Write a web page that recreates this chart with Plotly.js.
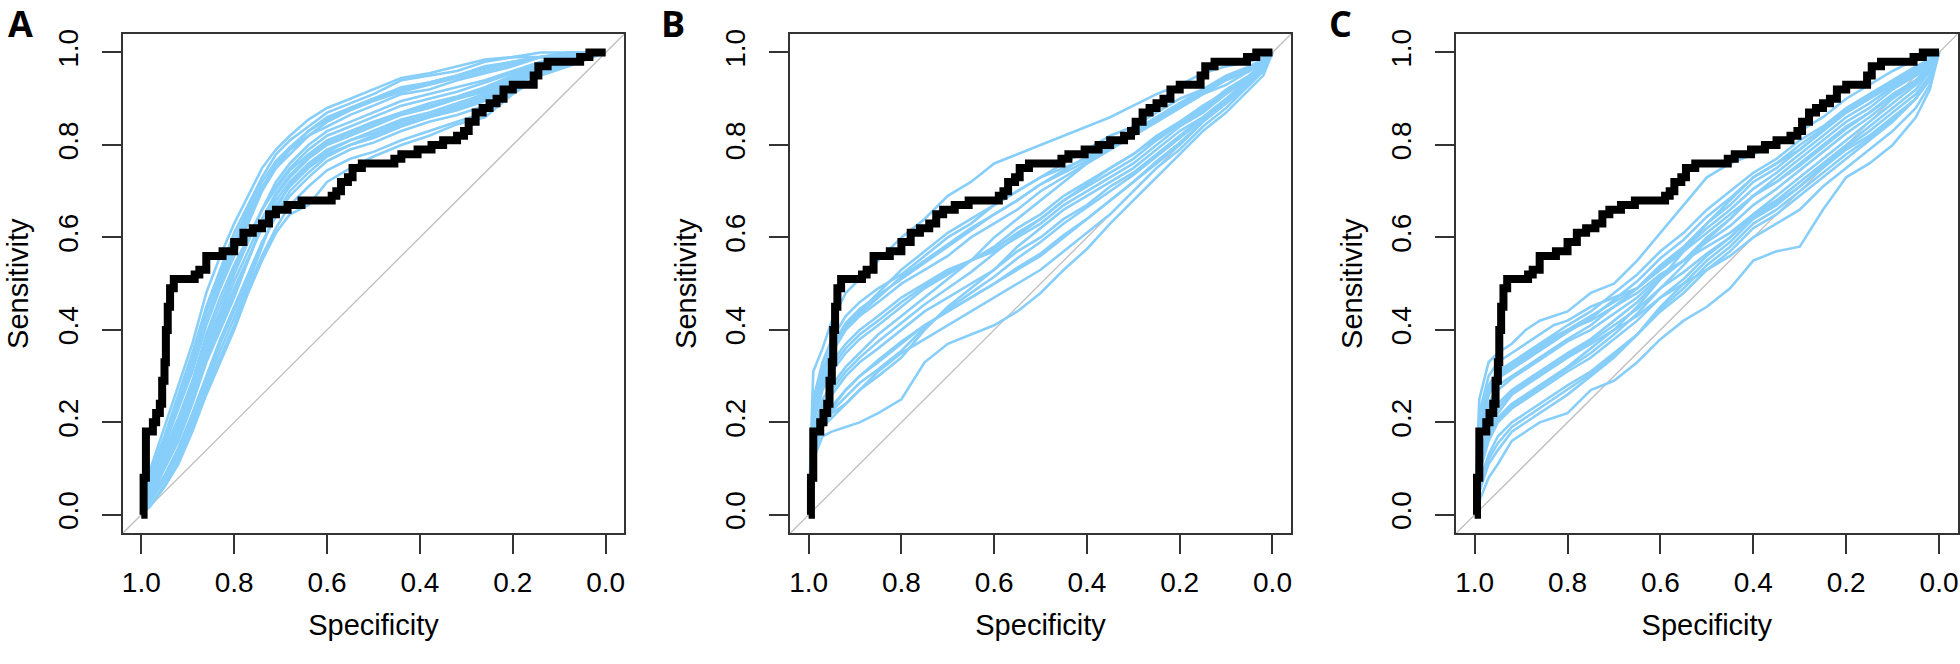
<!DOCTYPE html>
<html>
<head>
<meta charset="utf-8">
<script src="https://cdn.plot.ly/plotly-3.0.1.min.js"></script>
<style>html,body{margin:0;padding:0;background:#fff;}#chart{width:1960px;height:664px;}</style>
</head>
<body>
<div id="chart"></div>
<script>
// ---------- axis ticks ----------
const tickVals = [1.0, 0.8, 0.6, 0.4, 0.2, 0.0];
const tickText = ["1.0", "0.8", "0.6", "0.4", "0.2", "0.0"];
const panelLabels = ["A", "B", "C"];

// ---------- reference (black) ROC curve, same in all panels ----------
const blackSpec = [1.00, 0.995, 0.99, 0.975, 0.968, 0.96, 0.955, 0.95, 0.947, 0.943, 0.938, 0.93, 0.885, 0.875, 0.86, 0.825, 0.80, 0.78, 0.76, 0.74, 0.725, 0.71, 0.685, 0.655, 0.59, 0.58, 0.57, 0.555, 0.545, 0.525, 0.455, 0.44, 0.405, 0.375, 0.35, 0.32, 0.305, 0.295, 0.28, 0.265, 0.25, 0.235, 0.22, 0.20, 0.155, 0.145, 0.125, 0.055, 0.035, 0.0];
const blackSens = [0.00, 0.08, 0.18, 0.20, 0.22, 0.24, 0.29, 0.33, 0.40, 0.45, 0.49, 0.51, 0.52, 0.53, 0.56, 0.57, 0.59, 0.61, 0.62, 0.63, 0.65, 0.66, 0.67, 0.68, 0.69, 0.70, 0.72, 0.73, 0.75, 0.76, 0.77, 0.78, 0.79, 0.80, 0.81, 0.82, 0.83, 0.85, 0.87, 0.88, 0.89, 0.90, 0.92, 0.93, 0.95, 0.97, 0.98, 0.99, 1.00, 1.00];

// ---------- panel A blue curves ----------
const specA = [1.00, 0.98, 0.95, 0.92, 0.89, 0.86, 0.83, 0.80, 0.77, 0.74, 0.71, 0.68, 0.64, 0.60, 0.55, 0.50, 0.44, 0.38, 0.32, 0.26, 0.20, 0.14, 0.08, 0.00];
const blueA = [
  [0,0.10,0.19,0.28,0.37,0.48,0.56,0.63,0.69,0.75,0.79,0.82,0.855,0.88,0.90,0.92,0.945,0.955,0.97,0.985,0.99,1,1,1],
  [0,0.09,0.17,0.26,0.35,0.45,0.53,0.61,0.67,0.73,0.78,0.81,0.84,0.87,0.89,0.91,0.94,0.95,0.96,0.98,0.99,0.99,1,1],
  [0,0.08,0.16,0.25,0.33,0.44,0.51,0.58,0.65,0.71,0.75,0.78,0.82,0.84,0.865,0.885,0.91,0.92,0.94,0.955,0.97,0.99,0.99,1],
  [0,0.07,0.15,0.23,0.31,0.41,0.49,0.56,0.63,0.70,0.75,0.79,0.83,0.86,0.88,0.90,0.92,0.935,0.95,0.965,0.98,0.99,1,1],
  [0,0.06,0.14,0.21,0.29,0.39,0.47,0.54,0.60,0.66,0.705,0.745,0.78,0.81,0.83,0.85,0.87,0.89,0.905,0.925,0.95,0.975,0.985,1],
  [0,0.06,0.12,0.20,0.27,0.37,0.44,0.52,0.59,0.66,0.72,0.76,0.80,0.83,0.85,0.87,0.895,0.91,0.925,0.94,0.96,0.98,0.99,1],
  [0,0.05,0.11,0.18,0.26,0.35,0.42,0.49,0.555,0.62,0.67,0.71,0.75,0.78,0.80,0.82,0.845,0.86,0.88,0.90,0.935,0.965,0.98,1],
  [0,0.04,0.10,0.16,0.24,0.33,0.40,0.47,0.55,0.63,0.69,0.73,0.77,0.80,0.82,0.84,0.865,0.88,0.90,0.915,0.945,0.97,0.985,1],
  [0,0.04,0.085,0.145,0.22,0.30,0.38,0.45,0.52,0.59,0.645,0.69,0.73,0.765,0.79,0.805,0.83,0.85,0.865,0.885,0.925,0.96,0.975,1],
  [0,0.03,0.075,0.13,0.20,0.28,0.355,0.425,0.50,0.58,0.66,0.715,0.755,0.785,0.81,0.825,0.85,0.865,0.885,0.905,0.94,0.965,0.98,1],
  [0,0.02,0.065,0.12,0.19,0.27,0.34,0.41,0.49,0.56,0.62,0.67,0.71,0.745,0.77,0.785,0.81,0.83,0.85,0.87,0.915,0.955,0.975,1],
  [0,0.02,0.06,0.11,0.18,0.26,0.33,0.40,0.48,0.55,0.61,0.65,0.67,0.72,0.75,0.775,0.80,0.82,0.845,0.86,0.91,0.95,0.97,1],
  [0,0.075,0.155,0.24,0.32,0.425,0.50,0.57,0.64,0.705,0.76,0.79,0.82,0.85,0.875,0.895,0.915,0.93,0.945,0.96,0.975,0.99,0.995,1],
  [0,0.06,0.13,0.205,0.28,0.38,0.455,0.53,0.595,0.66,0.71,0.75,0.79,0.82,0.84,0.86,0.885,0.90,0.915,0.935,0.955,0.975,0.99,1],
  [0,0.045,0.105,0.17,0.25,0.34,0.41,0.48,0.55,0.625,0.68,0.72,0.76,0.79,0.81,0.83,0.855,0.87,0.89,0.91,0.94,0.97,0.98,1],
  [0,0.035,0.08,0.14,0.21,0.29,0.37,0.44,0.51,0.585,0.65,0.70,0.74,0.775,0.80,0.815,0.84,0.86,0.875,0.895,0.93,0.96,0.98,1],
  [0,0.085,0.165,0.255,0.34,0.445,0.52,0.595,0.66,0.72,0.765,0.795,0.83,0.855,0.88,0.90,0.925,0.935,0.95,0.97,0.98,0.99,0.995,1],
  [0,0.055,0.115,0.19,0.265,0.36,0.43,0.505,0.57,0.64,0.695,0.735,0.775,0.805,0.825,0.845,0.87,0.885,0.90,0.92,0.95,0.975,0.985,1]
];

// ---------- panel B blue curves ----------
const specB = [1.00, 0.99, 0.97, 0.95, 0.92, 0.89, 0.85, 0.80, 0.75, 0.70, 0.65, 0.60, 0.55, 0.50, 0.45, 0.40, 0.35, 0.30, 0.25, 0.20, 0.15, 0.10, 0.05, 0.02, 0.00];
const blueB = [
  [0,0.31,0.36,0.42,0.48,0.51,0.55,0.60,0.64,0.69,0.72,0.76,0.78,0.80,0.82,0.84,0.86,0.885,0.91,0.93,0.955,0.97,0.98,0.99,1],
  [0,0.25,0.33,0.38,0.43,0.46,0.49,0.52,0.56,0.60,0.63,0.67,0.70,0.73,0.76,0.79,0.82,0.84,0.87,0.90,0.92,0.95,0.97,0.985,1],
  [0,0.22,0.30,0.35,0.40,0.43,0.46,0.50,0.53,0.56,0.60,0.63,0.66,0.70,0.73,0.76,0.79,0.82,0.85,0.88,0.91,0.94,0.96,0.98,1],
  [0,0.23,0.29,0.33,0.37,0.40,0.43,0.47,0.50,0.53,0.55,0.57,0.60,0.63,0.67,0.70,0.73,0.76,0.80,0.84,0.87,0.91,0.945,0.97,1],
  [0,0.20,0.27,0.31,0.35,0.38,0.41,0.45,0.49,0.52,0.55,0.58,0.62,0.65,0.69,0.72,0.75,0.78,0.82,0.85,0.88,0.92,0.95,0.975,1],
  [0,0.18,0.25,0.28,0.32,0.35,0.39,0.43,0.47,0.51,0.55,0.60,0.64,0.68,0.72,0.76,0.79,0.82,0.85,0.88,0.91,0.93,0.96,0.98,1],
  [0,0.16,0.22,0.26,0.30,0.33,0.36,0.40,0.44,0.47,0.50,0.53,0.57,0.60,0.64,0.67,0.71,0.74,0.78,0.82,0.86,0.90,0.94,0.97,1],
  [0,0.21,0.30,0.36,0.41,0.44,0.48,0.53,0.57,0.61,0.64,0.67,0.70,0.73,0.75,0.77,0.80,0.83,0.86,0.89,0.92,0.945,0.965,0.98,1],
  [0,0.14,0.20,0.23,0.27,0.30,0.33,0.37,0.41,0.44,0.47,0.50,0.53,0.56,0.60,0.64,0.68,0.72,0.76,0.80,0.85,0.89,0.93,0.96,1],
  [0,0.13,0.19,0.22,0.24,0.27,0.30,0.34,0.40,0.45,0.49,0.53,0.58,0.62,0.66,0.69,0.72,0.75,0.79,0.83,0.86,0.90,0.94,0.97,1],
  [0,0.12,0.17,0.18,0.19,0.20,0.22,0.25,0.33,0.37,0.39,0.41,0.44,0.48,0.53,0.575,0.63,0.68,0.73,0.78,0.83,0.87,0.92,0.95,1],
  [0,0.15,0.19,0.21,0.24,0.27,0.31,0.35,0.38,0.41,0.44,0.47,0.50,0.53,0.57,0.61,0.65,0.70,0.75,0.79,0.84,0.88,0.93,0.96,1],
  [0,0.235,0.315,0.365,0.415,0.445,0.475,0.51,0.545,0.58,0.615,0.65,0.68,0.715,0.745,0.775,0.805,0.83,0.86,0.89,0.915,0.945,0.965,0.98,1],
  [0,0.21,0.28,0.32,0.36,0.39,0.42,0.46,0.495,0.525,0.55,0.575,0.61,0.64,0.68,0.71,0.74,0.77,0.81,0.845,0.875,0.915,0.95,0.975,1],
  [0,0.17,0.235,0.27,0.31,0.34,0.375,0.415,0.455,0.49,0.525,0.565,0.605,0.64,0.68,0.715,0.75,0.78,0.815,0.85,0.885,0.915,0.95,0.975,1],
  [0,0.135,0.195,0.225,0.255,0.285,0.315,0.355,0.405,0.445,0.48,0.515,0.555,0.59,0.63,0.665,0.70,0.735,0.775,0.815,0.855,0.895,0.935,0.965,1],
  [0,0.155,0.205,0.235,0.27,0.30,0.335,0.375,0.41,0.44,0.47,0.50,0.535,0.565,0.605,0.64,0.68,0.72,0.765,0.805,0.85,0.89,0.935,0.965,1],
  [0,0.215,0.30,0.355,0.405,0.435,0.47,0.515,0.55,0.585,0.62,0.65,0.68,0.715,0.74,0.765,0.795,0.825,0.855,0.885,0.915,0.945,0.965,0.98,1]
];

// ---------- panel C blue curves ----------
const specC = [1.00, 0.99, 0.97, 0.95, 0.92, 0.89, 0.86, 0.83, 0.80, 0.75, 0.70, 0.65, 0.60, 0.55, 0.50, 0.45, 0.40, 0.35, 0.30, 0.25, 0.20, 0.15, 0.10, 0.05, 0.02, 0.00];
const blueC = [
  [0,0.25,0.33,0.35,0.37,0.40,0.42,0.43,0.44,0.48,0.50,0.55,0.61,0.67,0.73,0.76,0.78,0.80,0.83,0.86,0.90,0.93,0.96,0.985,0.99,1],
  [0,0.20,0.28,0.31,0.33,0.35,0.37,0.39,0.41,0.44,0.48,0.52,0.57,0.61,0.66,0.70,0.74,0.77,0.81,0.84,0.88,0.91,0.94,0.97,0.985,1],
  [0,0.16,0.24,0.28,0.30,0.32,0.34,0.36,0.38,0.41,0.45,0.49,0.54,0.58,0.63,0.67,0.72,0.75,0.79,0.83,0.87,0.90,0.93,0.96,0.98,1],
  [0,0.12,0.20,0.24,0.27,0.29,0.31,0.33,0.35,0.38,0.42,0.46,0.51,0.55,0.60,0.64,0.69,0.72,0.76,0.80,0.84,0.87,0.91,0.94,0.97,1],
  [0,0.18,0.26,0.30,0.32,0.34,0.36,0.38,0.40,0.42,0.45,0.48,0.52,0.55,0.58,0.61,0.65,0.69,0.73,0.77,0.81,0.85,0.89,0.93,0.96,1],
  [0,0.10,0.17,0.21,0.24,0.26,0.28,0.30,0.32,0.36,0.40,0.45,0.51,0.57,0.63,0.68,0.73,0.76,0.79,0.83,0.87,0.90,0.93,0.96,0.98,1],
  [0,0.09,0.16,0.20,0.23,0.25,0.27,0.29,0.31,0.34,0.38,0.42,0.47,0.51,0.56,0.60,0.65,0.68,0.72,0.76,0.80,0.84,0.88,0.92,0.96,1],
  [0,0.22,0.30,0.33,0.35,0.37,0.39,0.41,0.42,0.45,0.47,0.49,0.53,0.57,0.61,0.65,0.69,0.73,0.77,0.81,0.85,0.88,0.92,0.95,0.97,1],
  [0,0.07,0.13,0.17,0.20,0.22,0.24,0.26,0.28,0.31,0.35,0.39,0.44,0.48,0.53,0.57,0.62,0.65,0.69,0.73,0.77,0.81,0.85,0.90,0.94,1],
  [0,0.05,0.11,0.14,0.18,0.20,0.22,0.24,0.26,0.30,0.34,0.39,0.45,0.50,0.55,0.59,0.64,0.67,0.71,0.75,0.79,0.82,0.86,0.90,0.95,1],
  [0,0.03,0.08,0.11,0.16,0.18,0.20,0.21,0.22,0.27,0.29,0.33,0.38,0.42,0.45,0.49,0.55,0.57,0.58,0.66,0.73,0.76,0.80,0.86,0.92,1],
  [0,0.11,0.18,0.22,0.26,0.28,0.30,0.32,0.34,0.37,0.40,0.43,0.47,0.50,0.53,0.56,0.60,0.63,0.66,0.71,0.75,0.79,0.83,0.88,0.93,1],
  [0,0.18,0.26,0.295,0.315,0.335,0.355,0.375,0.395,0.425,0.465,0.505,0.555,0.595,0.645,0.685,0.73,0.76,0.80,0.835,0.875,0.905,0.935,0.965,0.98,1],
  [0,0.15,0.23,0.27,0.295,0.315,0.335,0.355,0.375,0.40,0.435,0.47,0.515,0.55,0.59,0.625,0.67,0.705,0.745,0.785,0.825,0.86,0.90,0.935,0.965,1],
  [0,0.095,0.165,0.205,0.235,0.255,0.275,0.295,0.315,0.35,0.39,0.435,0.49,0.54,0.595,0.64,0.69,0.72,0.755,0.795,0.835,0.87,0.905,0.94,0.97,1],
  [0,0.06,0.12,0.155,0.19,0.21,0.23,0.25,0.27,0.305,0.345,0.39,0.445,0.49,0.54,0.58,0.63,0.66,0.70,0.74,0.78,0.815,0.855,0.90,0.945,1],
  [0,0.115,0.19,0.23,0.265,0.285,0.305,0.325,0.345,0.375,0.41,0.445,0.49,0.525,0.565,0.60,0.645,0.675,0.71,0.755,0.795,0.83,0.87,0.91,0.95,1],
  [0,0.19,0.27,0.305,0.325,0.345,0.365,0.385,0.40,0.43,0.46,0.49,0.535,0.575,0.62,0.66,0.705,0.74,0.78,0.82,0.86,0.89,0.925,0.955,0.975,1]
];

// ---------- styles ----------
const BLUE = '#87CEFA';
const FONT = 'Liberation Sans, Arial, Helvetica, sans-serif';
const xDomains = [[0.0626, 0.3185], [0.4031, 0.6587], [0.7429, 0.9988]];
const yDomain = [0.1968, 0.9488];
const xRange = [1.04, -0.04];
const yRange = [-0.04, 1.04];

const panels = [
  {spec: specA, blue: blueA},
  {spec: specB, blue: blueB},
  {spec: specC, blue: blueC}
];

const traces = [];
const layout = {
  width: 1960, height: 664,
  margin: {l: 0, r: 0, t: 0, b: 0},
  paper_bgcolor: '#fff', plot_bgcolor: '#fff',
  showlegend: false,
  font: {family: FONT, color: '#000', size: 28},
  annotations: [],
  hovermode: false
};

const labelX = [20, 673, 1340];

panels.forEach((p, i) => {
  const sfx = i === 0 ? '' : String(i + 1);
  const xa = 'x' + sfx, ya = 'y' + sfx;
  // diagonal reference line (corner to corner of the box)
  traces.push({x: [xRange[0], xRange[1]], y: [yRange[0], yRange[1]], xaxis: xa, yaxis: ya,
    mode: 'lines', line: {color: '#bebebe', width: 1.3}, hoverinfo: 'skip'});
  p.blue.forEach(s => {
    traces.push({x: p.spec, y: s, xaxis: xa, yaxis: ya, mode: 'lines',
      line: {color: BLUE, width: 2.6}, hoverinfo: 'skip'});
  });
  traces.push({x: blackSpec, y: blackSens, xaxis: xa, yaxis: ya, mode: 'lines',
    line: {color: '#000', width: 8, shape: 'hv'}, hoverinfo: 'skip'});

  layout['xaxis' + sfx] = {
    domain: xDomains[i], anchor: ya, range: xRange, autorange: false,
    tickmode: 'array', tickvals: tickVals, ticktext: tickText,
    ticks: 'outside', ticklen: 19, tickwidth: 2, tickcolor: '#333', ticklabelstandoff: 4,
    showline: true, mirror: true, linecolor: '#333', linewidth: 2,
    showgrid: false, zeroline: false, fixedrange: true,
    tickfont: {size: 28, family: FONT, color: '#000'},
    title: {text: 'Specificity', font: {size: 29, family: FONT, color: '#000'}, standoff: 18}
  };
  layout['yaxis' + sfx] = {
    domain: yDomain, anchor: xa, range: yRange, autorange: false,
    tickmode: 'array', tickvals: tickVals, ticktext: tickText, tickangle: -90,
    ticks: 'outside', ticklen: 19, tickwidth: 2, tickcolor: '#333', ticklabelstandoff: 13,
    showline: true, mirror: true, linecolor: '#333', linewidth: 2,
    showgrid: false, zeroline: false, fixedrange: true,
    tickfont: {size: 28, family: FONT, color: '#000'},
    title: {text: 'Sensitivity', font: {size: 29, family: FONT, color: '#000'}, standoff: 15}
  };
  layout.annotations.push({
    text: '<b>' + panelLabels[i] + '</b>', xref: 'paper', yref: 'paper',
    x: labelX[i] / 1960, y: 1, xanchor: 'center', yanchor: 'top', borderpad: 0, yshift: 2,
    showarrow: false, font: {size: 36, family: 'Open Sans, sans-serif', color: '#000'}
  });
});

Plotly.newPlot('chart', traces, layout, {staticPlot: true, displayModeBar: false});
</script>
</body>
</html>
